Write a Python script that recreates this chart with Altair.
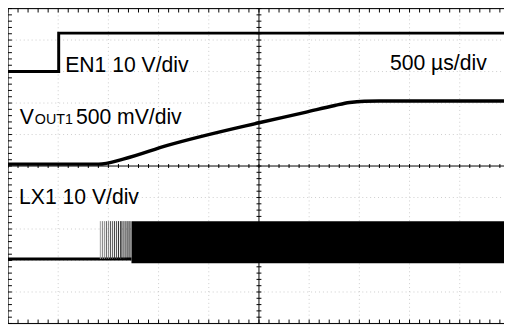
import altair as alt
import pandas as pd

# Screen coordinates in divisions (x: time divisions from centre, y: vertical divisions from centre)
X_MIN, X_MAX = -5.0, 4.882
Y_MIN, Y_MAX = -5.0, 5.0

# EN1 trace
en1_t = [-5.0, -3.99, -3.99, 4.882]
en1_v = [3.0, 3.0, 4.22, 4.22]

# VOUT1 trace (soft-start ramp)
vout_t = [-5.0, -3.196, -2.706, -1.824, 0.0, 0.922, 1.510, 1.804, 2.098, 2.392, 4.882]
vout_v = [0.06, 0.06, 0.219, 0.656, 1.375, 1.703, 1.922, 2.016, 2.056, 2.062, 2.062]

# LX1 trace: idle baseline, sparse first pulses, then dense switching band
lx_base_t = [-5.0, -2.54]
lx_base_v = [-2.95, -2.95]
lx_spike_t = [-3.16, -3.12, -3.08, -3.04, -3.0, -2.96, -2.92, -2.88, -2.84,
              -2.80, -2.76, -2.73, -2.69, -2.65, -2.61, -2.57]
lx_spike_shade = ["#999999", "#777777", "#888888", "#555555", "#777777", "#444444",
                  "#555555", "#333333", "#444444", "#222222", "#333333", "#111111",
                  "#222222", "#111111", "#000000", "#000000"]
lx_spike_low, lx_spike_high = -2.95, -1.75
lx_band_t = [-2.54, 4.882]
lx_band_v = [-3.09, -1.75]

# Annotations
label_text = ["EN1 10 V/div", "500 µs/div", "V", "OUT1", "500 mV/div", "LX1 10 V/div"]
label_x = [-3.86, 2.61, -4.765, -4.465, -3.647, -4.78]
label_y = [2.98, 3.06, 1.344, 1.344, 1.344, -1.22]
label_size = [21.5, 21.5, 21.5, 14.5, 21.5, 21.5]

# Graticule
grid_div_x = [-4, -3, -2, -1, 1, 2, 3, 4]
grid_div_y = [-4, -3, -2, -1, 1, 2, 3, 4]
minor_x = [round(-5 + 0.2 * i, 3) for i in range(50) if -5 + 0.2 * i <= X_MAX]
minor_y = [round(-5 + 0.2 * i, 3) for i in range(51)]

xs = alt.Scale(domain=[X_MIN, X_MAX], nice=False, zero=False)
ys = alt.Scale(domain=[Y_MIN, Y_MAX], nice=False, zero=False)

def X(f):
    return alt.X(f, type="quantitative", scale=xs, axis=None)

def Y(f):
    return alt.Y(f, type="quantitative", scale=ys, axis=None)

# dotted grid
vgrid = pd.DataFrame({"x": grid_div_x, "y": Y_MIN, "y2": Y_MAX})
hgrid = pd.DataFrame({"y": grid_div_y, "x": X_MIN, "x2": X_MAX})
dot = dict(color="#cccccc", strokeDash=[1, 3], strokeWidth=1)
g1 = alt.Chart(vgrid).mark_rule(**dot).encode(x=X("x"), y=Y("y"), y2="y2")
g2 = alt.Chart(hgrid).mark_rule(**dot).encode(y=Y("y"), x=X("x"), x2="x2")

# frame and centre cross
vframe = pd.DataFrame({"x": [X_MIN, 0.0], "y": Y_MIN, "y2": Y_MAX})
hframe = pd.DataFrame({"y": [Y_MAX, 0.0, Y_MIN], "x": X_MIN, "x2": X_MAX})
f1 = alt.Chart(vframe).mark_rule(color="black", strokeWidth=1).encode(x=X("x"), y=Y("y"), y2="y2")
f2 = alt.Chart(hframe).mark_rule(color="black", strokeWidth=1).encode(y=Y("y"), x=X("x"), x2="x2")

# ticks
px_y = 10.0 / 320.0  # divisions per pixel vertically
px_x = 10.0 / 510.0  # divisions per pixel horizontally
vt_rows = []
for t in minor_x:
    vt_rows.append({"x": t, "y": -2 * px_y, "y2": 2 * px_y})
    vt_rows.append({"x": t, "y": Y_MAX, "y2": Y_MAX - 4 * px_y})
    vt_rows.append({"x": t, "y": Y_MIN, "y2": Y_MIN + 4 * px_y})
ht_rows = []
for v in minor_y:
    ht_rows.append({"y": v, "x": -2.5 * px_x, "x2": 2.5 * px_x})
    ht_rows.append({"y": v, "x": X_MIN, "x2": X_MIN + 4 * px_x})
t1 = alt.Chart(pd.DataFrame(vt_rows)).mark_rule(color="black", strokeWidth=1).encode(x=X("x"), y=Y("y"), y2="y2")
t2 = alt.Chart(pd.DataFrame(ht_rows)).mark_rule(color="black", strokeWidth=1).encode(y=Y("y"), x=X("x"), x2="x2")

# traces
en1 = alt.Chart(pd.DataFrame({"t": en1_t, "v": en1_v, "o": range(len(en1_t))})).mark_line(
    color="black", strokeWidth=3).encode(x=X("t"), y=Y("v"), order="o:Q")
vout = alt.Chart(pd.DataFrame({"t": vout_t, "v": vout_v})).mark_line(
    color="black", strokeWidth=3.5, interpolate="monotone").encode(x=X("t"), y=Y("v"))
lxb = alt.Chart(pd.DataFrame({"t": lx_base_t, "v": lx_base_v})).mark_line(
    color="black", strokeWidth=3).encode(x=X("t"), y=Y("v"))
spikes = alt.Chart(pd.DataFrame({"t": lx_spike_t, "c": lx_spike_shade,
                                 "lo": lx_spike_low, "hi": lx_spike_high})).mark_rule(
    strokeWidth=1).encode(x=X("t"), y=Y("lo"), y2="hi", color=alt.Color("c:N", scale=None))
band = alt.Chart(pd.DataFrame({"t0": [lx_band_t[0]], "t1": [lx_band_t[1]],
                               "lo": [lx_band_v[0]], "hi": [lx_band_v[1]]})).mark_rect(
    color="black").encode(x=X("t0"), x2="t1", y=Y("lo"), y2="hi")

labels = alt.Chart(pd.DataFrame({"txt": label_text, "x": label_x, "y": label_y,
                                 "s": label_size})).mark_text(
    align="left", baseline="alphabetic", font="Liberation Sans", color="black").encode(
    x=X("x"), y=Y("y"), text="txt:N", size=alt.Size("s:Q", scale=None, legend=None))

chart = alt.layer(g1, g2, f1, f2, t1, t2, en1, vout, lxb, spikes, band, labels).properties(
    width=504, height=320,
    autosize=alt.AutoSizeParams(type="none"),
    padding={"left": 0, "top": -2, "right": 0, "bottom": 1},
).configure_view(stroke=None).configure(background="white")

chart.save("out.html", embed_options={"renderer": "svg", "actions": False})
